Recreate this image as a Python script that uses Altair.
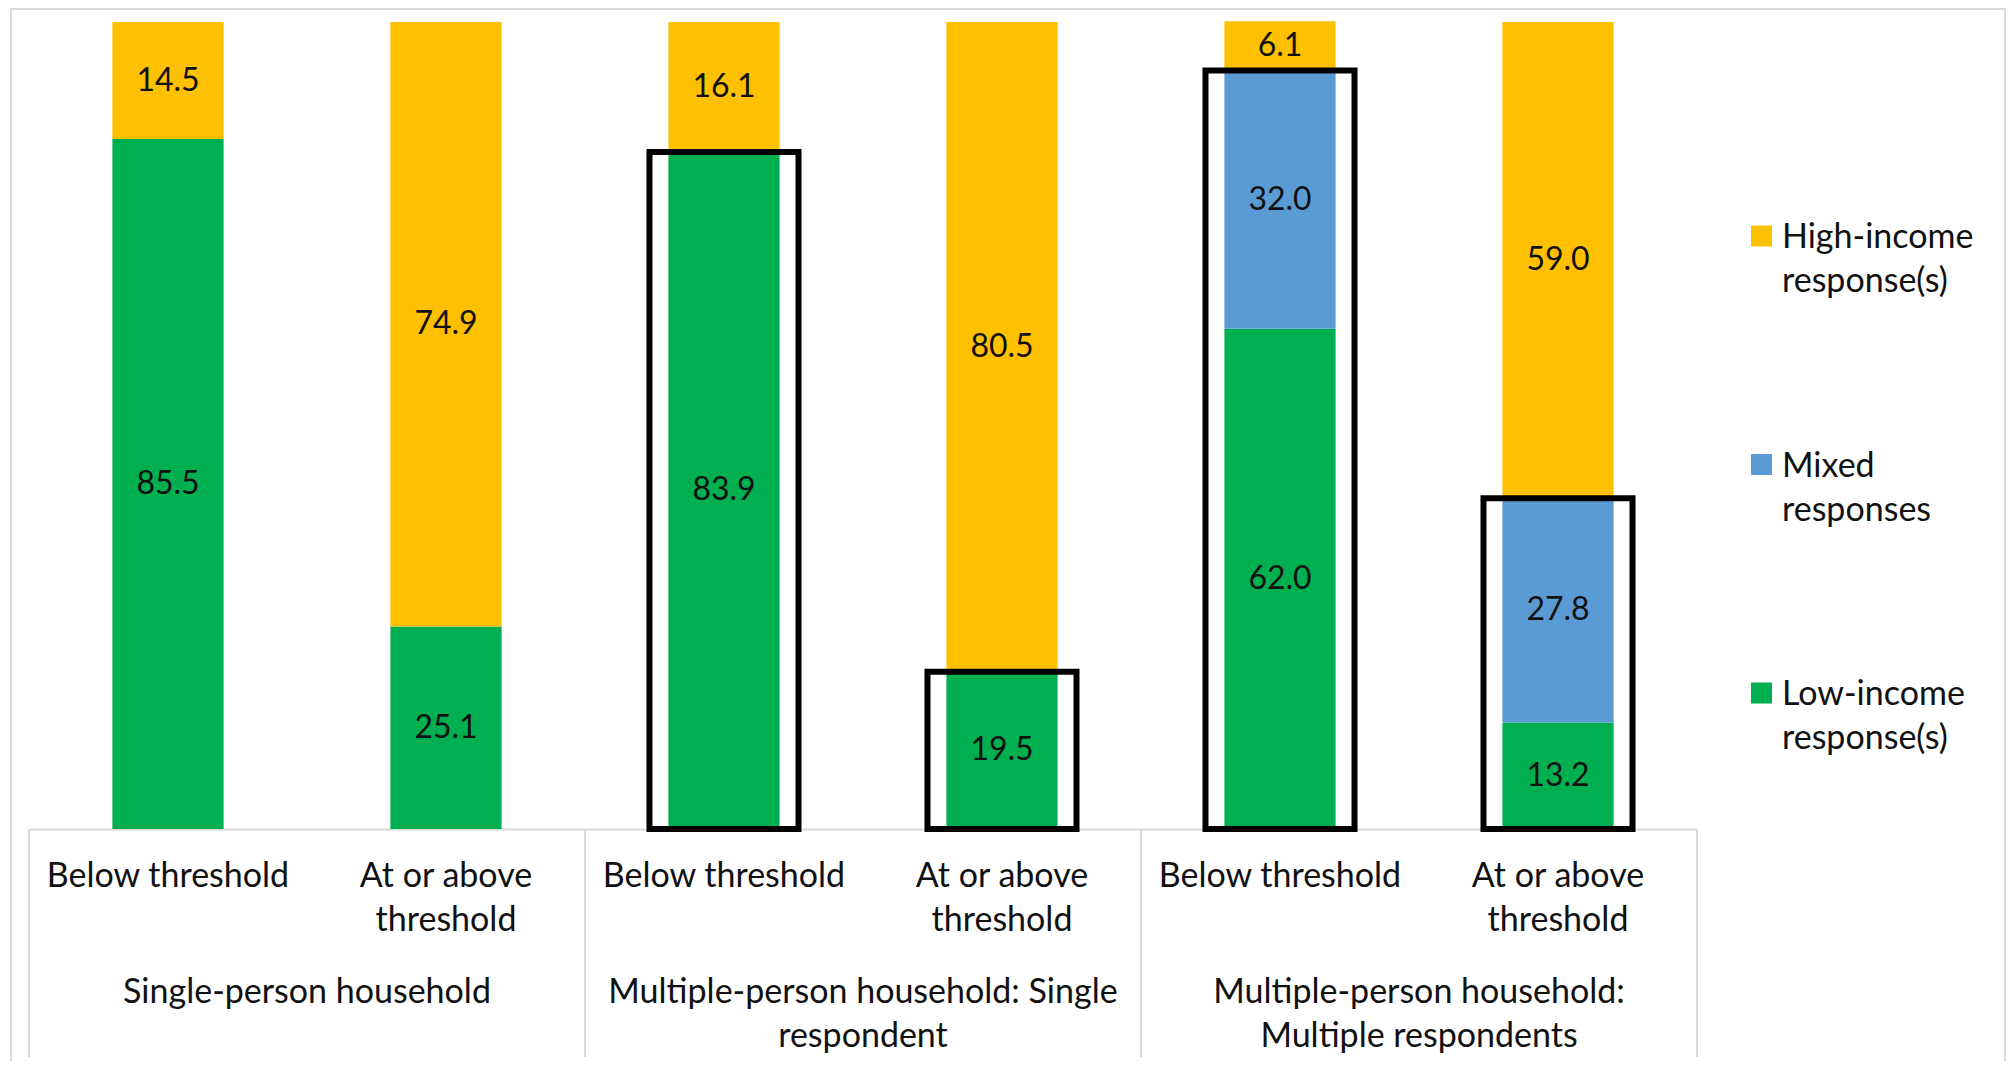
import altair as alt
import pandas as pd

# ---------------- data ----------------
groups = [
    "Single-person household",
    "Multiple-person household: Single\nrespondent",
    "Multiple-person household:\nMultiple respondents",
]
subcats = ["Below threshold", "At or above\nthreshold"]
series = ["Low-income", "Mixed", "High-income"]
legend_labels = ["Low-income\nresponse(s)", "Mixed\nresponses", "High-income\nresponse(s)"]
colors = ["#00B050", "#5B9BD5", "#FFC000"]

low = [85.5, 25.1, 83.9, 19.5, 62.0, 13.2]
mixed = [0.0, 0.0, 0.0, 0.0, 32.0, 27.8]
high = [14.5, 74.9, 16.1, 80.5, 6.1, 59.0]

# bars outlined by a black box, and which series the box covers
boxed_bars = [2, 3, 4, 5]
boxed_series = [["Low-income"], ["Low-income"], ["Low-income", "Mixed"], ["Low-income", "Mixed"]]

# ---------------- tables ----------------
keys = []
rows = []
cat_rows = []
for gi, g in enumerate(groups):
    for si, s in enumerate(subcats):
        i = gi * 2 + si
        k = f"{gi}-{si}"
        keys.append(k)
        cat_rows.append({"key": k, "sub": s})
        for order, (name, vals) in enumerate(zip(series, [low, mixed, high])):
            rows.append({"key": k, "series": name, "value": vals[i], "order": order})
df = pd.DataFrame(rows)
df_cat = pd.DataFrame(cat_rows)

values_by_series = {"Low-income": low, "Mixed": mixed, "High-income": high}
df_box = pd.DataFrame(
    [
        {"key": keys[b], "top": round(sum(values_by_series[s][b] for s in ss), 1)}
        for b, ss in zip(boxed_bars, boxed_series)
    ]
)
df_sep_start = pd.DataFrame({"key": [keys[0], keys[2], keys[4]]})
df_sep_end = pd.DataFrame({"key": [keys[5]]})
df_group = pd.DataFrame({"key": [keys[0], keys[2], keys[4]], "group": groups})
df_leg = pd.DataFrame({"series": series, "label": legend_labels})

# ---------------- scales / axes ----------------
xscale = alt.Scale(domain=keys, paddingInner=0, paddingOuter=0)
xaxis = alt.Axis(labels=False, ticks=False, grid=False, title=None,
                 domainColor="#D9D9D9", domainWidth=2)
yscale = alt.Scale(domain=[0, 100], nice=False, zero=True)
cscale = alt.Scale(domain=series, range=colors)
lscale = alt.Scale(domain=list(reversed(series)), range=[214, 671], padding=0)

FONT = "Lato"
TXT = "#111111"

base = alt.Chart(df).transform_filter("datum.value > 0").transform_stack(
    stack="value", groupby=["key"], as_=["y0", "y1"],
    sort=[alt.SortField("order", order="ascending")],
).transform_calculate(mid="(datum.y0 + datum.y1) / 2")

bars = base.mark_bar(width={"band": 0.4}).encode(
    x=alt.X("key:N", scale=xscale, axis=xaxis),
    y=alt.Y("y0:Q", scale=yscale, axis=None),
    y2="y1:Q",
    color=alt.Color("series:N", scale=cscale, legend=None),
)

labels = base.mark_text(fontSize=32, color=TXT, baseline="middle").encode(
    x=alt.X("key:N", scale=xscale, axis=xaxis),
    y=alt.Y("mid:Q", scale=yscale, axis=None),
    text=alt.Text("value:Q", format=".1f"),
)

boxes = alt.Chart(df_box).mark_bar(
    width={"band": 0.536}, fillOpacity=0, stroke="#000000", strokeWidth=6, y2Offset=2
).encode(
    x=alt.X("key:N", scale=xscale, axis=xaxis),
    y=alt.Y("top:Q", scale=yscale, axis=None),
)

sep1 = alt.Chart(df_sep_start).mark_rule(color="#D9D9D9", strokeWidth=2).encode(
    x=alt.X("key:N", scale=xscale, axis=xaxis, bandPosition=0),
    y=alt.value(807), y2=alt.value(1035),
)
sep2 = alt.Chart(df_sep_end).mark_rule(color="#D9D9D9", strokeWidth=2).encode(
    x=alt.X("key:N", scale=xscale, axis=xaxis, bandPosition=1),
    y=alt.value(807), y2=alt.value(1035),
)

sub_text = alt.Chart(df_cat).mark_text(
    fontSize=34, lineHeight=44, lineBreak="\n", baseline="alphabetic", color=TXT
).encode(
    x=alt.X("key:N", scale=xscale, axis=xaxis),
    y=alt.value(865),
    text="sub:N",
)

group_text = alt.Chart(df_group).mark_text(
    fontSize=34, lineHeight=44, lineBreak="\n", baseline="alphabetic", color=TXT
).encode(
    x=alt.X("key:N", scale=xscale, axis=xaxis, bandPosition=1),
    y=alt.value(981),
    text="group:N",
)

frame = alt.Chart(df_leg).mark_rect(
    fillOpacity=0, stroke="#D9D9D9", strokeWidth=2
).encode(
    x=alt.value(-18), x2=alt.value(1976), y=alt.value(-13), y2=alt.value(1060)
)

main = alt.layer(frame, bars, labels, boxes, sep1, sep2, sub_text, group_text)

leg_sq = alt.Chart(df_leg).mark_square(size=441, opacity=1).encode(
    x=alt.value(1732.5),
    y=alt.Y("series:N", scale=lscale, axis=None),
    color=alt.Color("series:N", scale=cscale, legend=None),
)
leg_txt = alt.Chart(df_leg).mark_text(
    align="left", baseline="alphabetic", dy=12, fontSize=34, lineHeight=44,
    lineBreak="\n", color=TXT
).encode(
    x=alt.value(1753),
    y=alt.Y("series:N", scale=lscale, axis=None),
    text="label:N",
)
legend = alt.layer(leg_sq, leg_txt)

chart = (
    alt.layer(main, legend)
    .resolve_scale(y="independent")
    .properties(
        width=1668,
        height=807,
        autosize=alt.AutoSizeParams(type="none"),
        padding={"left": 21, "top": 14, "right": 310, "bottom": 232},
    )
    .configure(font=FONT)
    .configure_view(stroke=None)
)

chart.save("out.html", embed_options={"renderer": "svg", "actions": False})
